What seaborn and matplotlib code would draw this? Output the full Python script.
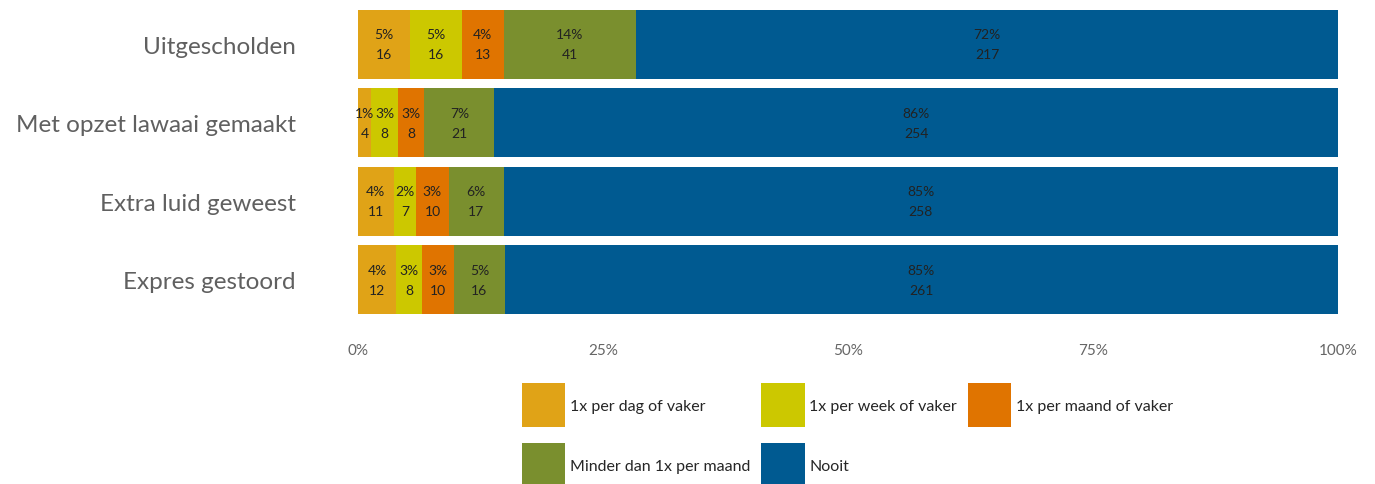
import matplotlib.pyplot as plt
import numpy as np
import pandas as pd
import seaborn as sns

# survey items (top to bottom) and answer categories
items = ["Uitgescholden", "Met opzet lawaai gemaakt", "Extra luid geweest", "Expres gestoord"]
answers = ["1x per dag of vaker", "1x per week of vaker", "1x per maand of vaker",
           "Minder dan 1x per maand", "Nooit"]
colors = ["#E0A317", "#CCC800", "#E07400", "#7A8F2E", "#005A91"]

# counts per answer, one list per item
per_dag = [16, 4, 11, 12]
per_week = [16, 8, 7, 8]
per_maand = [13, 8, 10, 10]
minder = [41, 21, 17, 16]
nooit = [217, 254, 258, 261]

counts = pd.DataFrame({
    answers[0]: per_dag,
    answers[1]: per_week,
    answers[2]: per_maand,
    answers[3]: minder,
    answers[4]: nooit,
}, index=items)
pct = counts.div(counts.sum(axis=1), axis=0) * 100
cum = pct.cumsum(axis=1)

sns.set_style("white")
plt.rcParams["font.family"] = ["Lato", "DejaVu Sans"]

fig = plt.figure(figsize=(13.75, 4.85), dpi=100)
ax = fig.add_axes([0.2604, 0.340, 0.7127, 0.6476])

# stacked bars: draw cumulative widths from the back (largest) to the front
for ans, col in reversed(list(zip(answers, colors))):
    d = pd.DataFrame({"item": items, "val": cum[ans].values})
    sns.barplot(data=d, x="val", y="item", order=items, orient="h",
                color=col, saturation=1, width=0.88, ax=ax, label=ans,
                linewidth=0)

# labels inside the segments
for i, item in enumerate(items):
    start = 0
    for ans in answers:
        p = pct.loc[item, ans]
        n = counts.loc[item, ans]
        ax.text(start + p / 2, i, f"{p:.0f}%\n{n}", ha="center", va="center",
                fontsize=10, color="#222222", linespacing=1.8)
        start += p

ax.set_xlim(0, 100)
ax.set_ylim(3.5, -0.5)
ax.set_xticks([0, 25, 50, 75, 100])
ax.set_xticklabels(["0%", "25%", "50%", "75%", "100%"])
ax.set_xlabel("")
ax.set_ylabel("")
ax.tick_params(axis="x", length=0, pad=17, labelsize=11, labelcolor="#666666")
ax.tick_params(axis="y", length=0, pad=45, labelsize=17.5, labelcolor="#606060")
sns.despine(ax=ax, left=True, bottom=True)

handles, labels = ax.get_legend_handles_labels()
if ax.get_legend() is not None:
    ax.get_legend().remove()
# matplotlib fills legend columns first; reorder so rows read left to right
row_major = [answers[0], answers[3], answers[1], answers[4], answers[2]]
order = [labels.index(a) for a in row_major]
fig.legend([handles[k] for k in order], [labels[k] for k in order],
           loc="upper left", bbox_to_anchor=(522 / 1375, 1 - 384 / 485),
           ncol=3, frameon=False, fontsize=11.5, handlelength=2.7, handleheight=3.9,
           handletextpad=0.3, columnspacing=0.7, labelspacing=1.0,
           borderpad=0, borderaxespad=0)

fig.savefig("out.png", dpi=100)
